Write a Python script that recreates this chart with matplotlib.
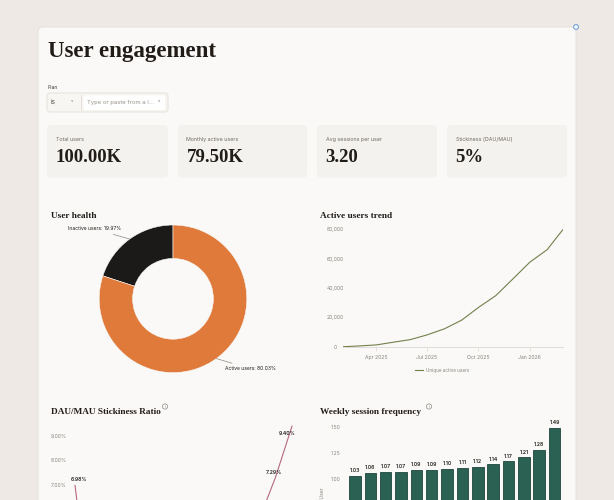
import matplotlib
matplotlib.use("Agg")
import matplotlib.pyplot as plt
import matplotlib.dates as mdates
from matplotlib.patches import FancyBboxPatch, Circle
import numpy as np
import pandas as pd

# data
kpi_labels = ["Total users", "Monthly active users", "Avg sessions per user", "Stickiness (DAU/MAU)"]
kpi_values = ["100.00K", "79.50K", "3.20", "5%"]

health_labels = ["Inactive users", "Active users"]
health_pct = [19.97, 80.03]

trend_months = pd.date_range("2025-02-01", periods=14, freq="MS")
trend_users = [200, 700, 1400, 3200, 5000, 8200, 12300, 18200, 26800, 34800, 45900, 57500, 66000, 79500]

stick_weeks = list(range(14))
stick_pct = [6.98, 1.62, 2.1, 2.5, 2.9, 3.2, 3.6, 3.9, 4.3, 4.7, 5.1, 5.54, 7.29, 9.40]

sess_weeks = list(range(14))
sess_per_user = [1.03, 1.06, 1.07, 1.07, 1.09, 1.09, 1.10, 1.11, 1.12, 1.14, 1.17, 1.21, 1.28, 1.49]

W, H = 614, 500
SERIF = "Liberation Serif"
SANS = "Inter"
INK = "#211c18"
GREY = "#8a8680"

plt.rcParams["font.family"] = [SANS, "DejaVu Sans"]

fig = plt.figure(figsize=(W / 100, H / 100), dpi=100)
fig.patch.set_facecolor("#eee9e4")

# pixel canvas for boxes and texts
bg = fig.add_axes([0, 0, 1, 1])
bg.set_xlim(0, W)
bg.set_ylim(H, 0)
bg.axis("off")


def axes_px(l, t, r, b):
    return fig.add_axes([l / W, 1 - b / H, (r - l) / W, (b - t) / H])


def box(x0, y0, x1, y1, fc, ec="none", r=4, lw=0.6):
    bg.add_patch(FancyBboxPatch((x0, y0), x1 - x0, y1 - y0,
                                boxstyle="round,pad=0,rounding_size=%g" % r,
                                fc=fc, ec=ec, lw=lw))


# main card
box(38, 27, 576, 540, "#faf9f7", ec="#e3ded8", r=5)
bg.add_patch(Circle((576, 27), 2.4, fc="white", ec="#6fa3d8", lw=0.8, zorder=5))

bg.text(48, 52, "User engagement", family=SERIF, weight="bold", fontsize=16.5,
        color=INK, va="center")

# filter control
bg.text(48, 87.5, "Plan", fontsize=3.6, color="#3a3530", va="center")
box(47, 93, 168, 112, "#f8f6f3", ec="#e2ddd6", r=3)
box(83.5, 95.5, 165, 110, "white", r=2)
bg.plot([80.5, 80.5], [95, 110], color="#e2ddd6", lw=0.6)
bg.text(51, 102.5, "is", fontsize=4.6, color="#55504a", va="center")
bg.text(72, 102.5, "\u02c5", fontsize=4, color="#8a8680", va="center", ha="center")
bg.text(87, 102.5, "Type or paste from a l...", fontsize=4.3, color="#9a958f", va="center")
bg.text(159, 102.5, "\u02c5", fontsize=4, color="#8a8680", va="center", ha="center")

# kpi cards
card_x = [(47, 168), (178, 307), (317, 437), (447, 567)]
for (x0, x1), lab, val in zip(card_x, kpi_labels, kpi_values):
    box(x0, 125, x1, 177.5, "#f4f2ee", r=4)
    bg.text(x0 + 8.5, 139.7, lab, fontsize=3.8, color="#6e6964", va="center")
    bg.text(x0 + 8.5, 158, val, family=SERIF, weight="bold", fontsize=13.5,
            color=INK, va="center")

# section titles
for x, y, t, icon in [(51, 216.5, "User health", None),
                      (319.5, 216.5, "Active users trend", None),
                      (51, 412.5, "DAU/MAU Stickiness Ratio", 165),
                      (319.5, 412.5, "Weekly session frequency", 429)]:
    bg.text(x, y, t, family=SERIF, weight="bold", fontsize=6.7, color=INK, va="center")
    if icon:
        bg.add_patch(Circle((icon, 406.5), 2.6, fc="none", ec="#8d8983", lw=0.5))
        bg.text(icon, 406.7, "i", fontsize=2.8, color="#8d8983", ha="center", va="center")

# donut
ax1 = axes_px(99.2, 225, 246.8, 372.6)
wedges, _ = ax1.pie(health_pct, colors=["#1b1a18", "#e07a3a"], startangle=90,
                    counterclock=True, radius=1,
                    wedgeprops=dict(width=0.453, edgecolor="#faf9f7", linewidth=0.4))
ax1.set_xlim(-1, 1)
ax1.set_ylim(-1, 1)
ax1.set_aspect("equal")
for w, lab, p in zip(wedges, health_labels, health_pct):
    ang = np.deg2rad((w.theta1 + w.theta2) / 2)
    px, py = np.cos(ang), np.sin(ang)
    ax1.annotate("%s: %.2f%%" % (lab, p), xy=(px, py), xytext=(px * 1.2, py * 1.17),
                 ha="right" if px < 0 else "left", va="center", fontsize=3.6, color=INK,
                 arrowprops=dict(arrowstyle="-", color="#8d8983", lw=0.5,
                                 shrinkA=0.5, shrinkB=0),
                 annotation_clip=False)


def light_axes(ax):
    ax.set_facecolor("none")
    for s in ["top", "right", "left"]:
        ax.spines[s].set_visible(False)
    ax.spines["bottom"].set_color("#dcd8d2")
    ax.spines["bottom"].set_linewidth(0.6)
    ax.tick_params(axis="y", length=0, labelsize=3.7, labelcolor=GREY)
    ax.tick_params(axis="x", labelsize=3.7, labelcolor=GREY)


# active users trend
ax2 = axes_px(343.2, 229, 562.8, 347)
ax2.plot(trend_months, trend_users, color="#72804c", lw=0.8, label="Unique active users")
ax2.set_xlim(trend_months[0], trend_months[-1])
ax2.set_ylim(0, 80000)
ax2.set_yticks([0, 20000, 40000, 60000, 80000])
ax2.set_yticklabels(["{:,}".format(v) for v in [0, 20000, 40000, 60000, 80000]], ha="center")
light_axes(ax2)
ax2.tick_params(axis="y", pad=5.5)
ax2.set_xticks(pd.to_datetime(["2025-04-01", "2025-07-01", "2025-10-01", "2026-01-01"]))
ax2.xaxis.set_major_formatter(mdates.DateFormatter("%b %Y"))
ax2.tick_params(axis="x", length=3, width=0.5, color="#dcd8d2", pad=2.5)
ax2.legend(loc="upper center", bbox_to_anchor=(0.45, -0.14), frameon=False, fontsize=3.3,
           handlelength=1.8, handletextpad=0.6, labelcolor=GREY)

# stickiness ratio, cut off by the bottom of the page
ax3 = axes_px(70, 422.5, 297, 632)
ax3.plot(stick_weeks, stick_pct, color="#b5677f", lw=0.8)
last = len(stick_pct) - 1
for x, v in zip(stick_weeks, stick_pct):
    if v < 6.5:
        continue  # these labels sit below the visible page
    off = (3, 3.5) if x == 0 else (-3.5, -6) if x == last else (-1, 3)
    ax3.annotate("%.2f%%" % v, (x, v), xytext=off, textcoords="offset points",
                 ha="center", fontsize=3.7, color=INK, weight="semibold",
                 annotation_clip=False)
ax3.set_xlim(-0.3, 13.3)
ax3.set_ylim(1.0, 9.55)
ax3.set_yticks([7, 8, 9])
ax3.set_yticklabels(["%.2f%%" % v for v in [7, 8, 9]])
light_axes(ax3)
ax3.tick_params(axis="y", pad=2.5)
ax3.spines["bottom"].set_visible(False)
ax3.set_xticks([])

# weekly session frequency
ax4 = axes_px(345, 421.8, 564.5, 583)
bars = ax4.bar(sess_weeks, sess_per_user, width=0.75, color="#2b6153",
               edgecolor="#1d463c", linewidth=0.6)
for x, v in zip(sess_weeks, sess_per_user):
    ax4.text(x, v + 0.025, "%.2f" % v, ha="center", va="bottom", fontsize=3.7,
             color=INK, weight="semibold")
ax4.set_xlim(-0.65, 13.65)
ax4.set_ylim(0, 1.55)
ax4.set_yticks([1.0, 1.25, 1.5])
ax4.set_yticklabels(["%.2f" % v for v in [1.0, 1.25, 1.5]])
light_axes(ax4)
ax4.tick_params(axis="y", pad=3.5)
ax4.set_xticks([])
bg.text(323, 488, "Per User", rotation=90, fontsize=3.6, color=GREY,
        ha="center", va="top")

fig.savefig("out.png", dpi=100, facecolor=fig.get_facecolor())
